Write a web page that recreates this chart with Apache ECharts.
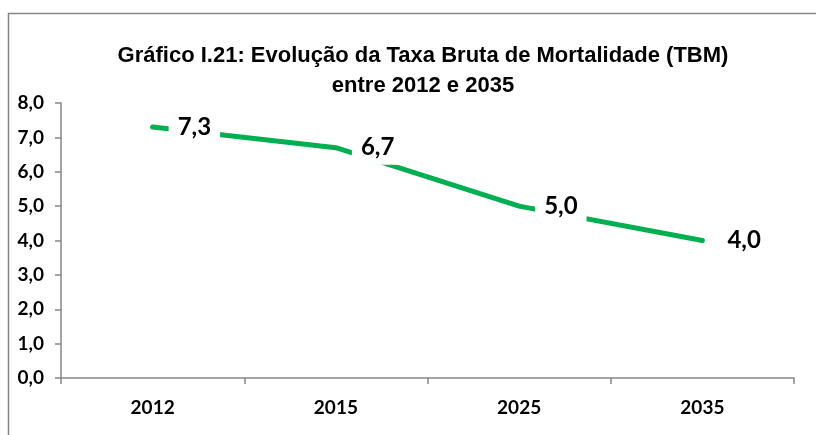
<!DOCTYPE html>
<html>
<head>
<meta charset="utf-8">
<script src="https://cdn.jsdelivr.net/npm/echarts@6/dist/echarts.min.js"></script>
<style>
  html, body { margin: 0; padding: 0; background: #fff; }
  #chart { width: 816px; height: 435px; }
</style>
</head>
<body>
<div id="chart"></div>
<script>
// dados do gráfico
const anos = ['2012', '2015', '2025', '2035'];
const tbm = [7.3, 6.7, 5.0, 4.0];

const fmt = v => v.toFixed(1).replace('.', ',');

const chart = echarts.init(document.getElementById('chart'), null, { renderer: 'canvas' });

chart.setOption({
  animation: false,
  title: {
    text: 'Gráfico I.21: Evolução da Taxa Bruta de Mortalidade (TBM)\nentre 2012 e 2035',
    left: 418,
    textAlign: 'center',
    top: 36,
    textStyle: {
      fontFamily: 'Liberation Sans',
      fontWeight: 'bold',
      fontSize: 22,
      lineHeight: 30,
      color: '#000'
    }
  },
  graphic: [{
    type: 'rect',
    shape: { x: 8.5, y: 13.5, width: 830, height: 440 },
    style: { fill: 'none', stroke: '#868686', lineWidth: 1.5 },
    silent: true
  }],
  grid: { left: 61, right: 22, top: 103, bottom: 57 },
  xAxis: {
    type: 'category',
    data: anos,
    boundaryGap: true,
    axisLine: { lineStyle: { color: '#868686', width: 1.5 } },
    axisTick: { show: true, length: 6, lineStyle: { color: '#868686', width: 1.5 } },
    axisLabel: {
      margin: 20,
      fontFamily: 'Lato',
      fontWeight: 'bold',
      fontSize: 19,
      color: '#000'
    }
  },
  yAxis: {
    type: 'value',
    min: 0,
    max: 8,
    interval: 1,
    splitLine: { show: false },
    axisLine: { show: true, lineStyle: { color: '#868686', width: 1.5 } },
    axisTick: { show: true, length: 6, lineStyle: { color: '#868686', width: 1.5 } },
    axisLabel: {
      margin: 17,
      formatter: v => fmt(v),
      fontFamily: 'Lato',
      fontWeight: 'bold',
      fontSize: 19,
      color: '#000'
    }
  },
  series: [{
    type: 'line',
    data: tbm,
    symbol: 'circle',
    symbolSize: 4,
    showSymbol: true,
    itemStyle: { color: '#00B050' },
    lineStyle: { color: '#00B050', width: 5, cap: 'round', join: 'round' },
    label: {
      show: true,
      position: 'right',
      distance: 14,
      formatter: p => fmt(p.value),
      fontFamily: 'Lato',
      fontWeight: 'bold',
      fontSize: 24,
      color: '#000',
      backgroundColor: '#fff',
      padding: [5, 9]
    },
    z: 3
  }]
});
</script>
</body>
</html>
